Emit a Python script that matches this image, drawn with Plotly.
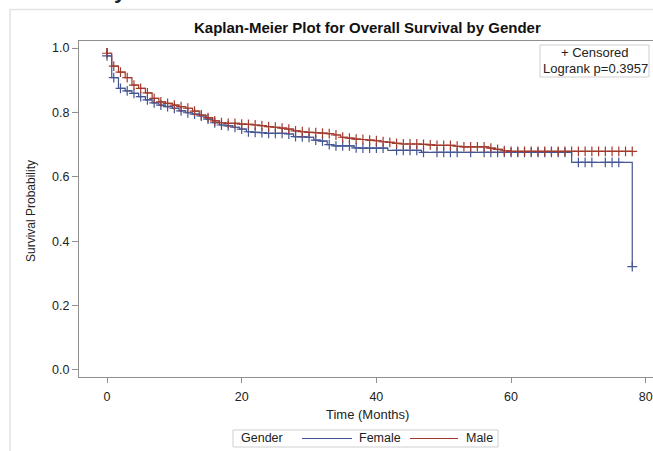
import plotly.graph_objects as go

# ---------------- data ----------------
months = list(range(0, 79))

male_surv = [0.984, 0.944, 0.925, 0.908, 0.885, 0.875, 0.861, 0.844, 0.833, 0.828,
             0.823, 0.818, 0.813, 0.804, 0.792, 0.784, 0.774, 0.768, 0.766, 0.766,
             0.764, 0.763, 0.761, 0.759, 0.756, 0.754, 0.751, 0.748, 0.743, 0.740,
             0.738, 0.737, 0.736, 0.734, 0.730, 0.723, 0.720, 0.717, 0.716, 0.714,
             0.712, 0.709, 0.707, 0.704, 0.702, 0.702, 0.702, 0.701, 0.699, 0.698,
             0.698, 0.698, 0.695, 0.693, 0.693, 0.693, 0.693, 0.689, 0.685, 0.681,
             0.679, 0.679, 0.679, 0.679, 0.679, 0.679, 0.679, 0.679, 0.679, 0.679,
             0.679, 0.679, 0.679, 0.679, 0.679, 0.679, 0.679, 0.679, 0.679]

female_surv = [0.976, 0.908, 0.875, 0.867, 0.859, 0.849, 0.839, 0.830, 0.823, 0.818,
               0.813, 0.805, 0.799, 0.795, 0.789, 0.779, 0.768, 0.761, 0.758, 0.754,
               0.748, 0.740, 0.738, 0.737, 0.735, 0.735, 0.735, 0.733, 0.725, 0.724,
               0.723, 0.714, 0.711, 0.700, 0.696, 0.696, 0.696, 0.690, 0.689, 0.689,
               0.689, 0.689, 0.682, 0.682, 0.682, 0.682, 0.682, 0.676, 0.676, 0.676,
               0.676, 0.676, 0.676, 0.676, 0.676, 0.676, 0.676, 0.676, 0.676, 0.676,
               0.676, 0.676, 0.676, 0.676, 0.676, 0.676, 0.676, 0.676, 0.676, 0.645,
               0.645, 0.645, 0.645, 0.645, 0.645, 0.645, 0.645, 0.645, 0.321]

male_censored = list(range(0, 79))
female_censored = [m for m in range(0, 69) if m not in (42, 48, 53, 55)] + [70, 71, 72, 74, 75, 76, 78]

x_ticks = [0, 20, 40, 60, 80]
y_ticks = [0.0, 0.2, 0.4, 0.6, 0.8, 1.0]
y_tick_labels = ["0.0", "0.2", "0.4", "0.6", "0.8", "1.0"]
logrank_text = "Logrank p=0.3957"

BLUE = "#445694"
RED = "#A23A2E"
FONT = "Liberation Sans, Arial, sans-serif"
AXIS = "#8f8f8f"


def step_xy(surv):
    # event drops happen just before each month mark in the early part
    t = [0.0, 0.0] + [m - 0.3 if m < 60 else float(m) for m in months[1:]] + [float(months[-1])]
    s = [1.0] + list(surv) + [surv[-1]]
    return t, s


fig = go.Figure()
for name, surv, cens, col in [("Female", female_surv, female_censored, BLUE),
                              ("Male", male_surv, male_censored, RED)]:
    t, s = step_xy(surv)
    fig.add_trace(go.Scatter(x=t, y=s, mode="lines", line=dict(color=col, width=1.2, shape="hv"),
                             name=name, showlegend=False, hoverinfo="skip"))
    fig.add_trace(go.Scatter(x=cens, y=[surv[c] for c in cens], mode="markers",
                             marker=dict(symbol="cross-thin", size=7, line=dict(color=col, width=1.2)),
                             name=name + " censored", showlegend=False, hoverinfo="skip"))

# plot area: x 79..653, y 41..377
L, R, T, B = 79, 653, 41, 377
W, H = R - L, B - T


def px(x):
    return (x - L) / W


def py(y):
    return (B - y) / H


annotations = [
    dict(text="<b>Kaplan-Meier Plot for Overall Survival by Gender</b>", x=px(367), y=py(28),
         xanchor="center", yanchor="middle", font=dict(size=15, color="#111")),
    dict(text="<b>y</b>", x=px(112), y=py(4.5), xanchor="left", yanchor="bottom",
         font=dict(size=22, color="#222")),
    dict(text="Survival Probability", x=px(31), y=py(211), textangle=-90,
         xanchor="center", yanchor="middle", font=dict(size=12, color="#222")),
    dict(text="Time (Months)", x=px(367), y=py(414), xanchor="center", yanchor="middle",
         font=dict(size=13, color="#222")),
    dict(text="+ Censored", x=px(595), y=py(53), xanchor="center", yanchor="middle",
         font=dict(size=13, color="#222")),
    dict(text=logrank_text, x=px(595), y=py(68.5), xanchor="center", yanchor="middle",
         font=dict(size=13, color="#222")),
    dict(text="Gender", x=px(239), y=py(438.5), xanchor="left", yanchor="middle",
         font=dict(size=12.5, color="#222")),
    dict(text="Female", x=px(357), y=py(438.5), xanchor="left", yanchor="middle",
         font=dict(size=12.5, color="#222")),
    dict(text="Male", x=px(464), y=py(438.5), xanchor="left", yanchor="middle",
         font=dict(size=12.5, color="#222")),
]
for a in annotations:
    a.update(xref="paper", yref="paper", showarrow=False)
    a["font"]["family"] = FONT

shapes = [
    # outer light frame
    dict(type="rect", x0=px(10), x1=px(700), y0=py(500), y1=py(9.5),
         line=dict(color="#e2e2e2", width=1.5)),
    # inset box
    dict(type="rect", x0=px(540), x1=px(649), y0=py(77), y1=py(45),
         line=dict(color="#cfcfcf", width=1)),
    # legend box
    dict(type="rect", x0=px(233), x1=px(498), y0=py(447), y1=py(430),
         line=dict(color="#cfcfcf", width=1)),
    dict(type="line", x0=px(302), x1=px(352), y0=py(438.5), y1=py(438.5),
         line=dict(color=BLUE, width=1.2)),
    dict(type="line", x0=px(410), x1=px(458), y0=py(438.5), y1=py(438.5),
         line=dict(color=RED, width=1.2)),
]
for s in shapes:
    s.update(xref="paper", yref="paper", layer="above")

fig.update_layout(
    width=653, height=451,
    margin=dict(l=L, r=653 - R, t=T, b=451 - B, pad=0),
    paper_bgcolor="white", plot_bgcolor="white",
    font=dict(family=FONT, size=12, color="#222"),
    showlegend=False,
    annotations=annotations,
    shapes=shapes,
    xaxis=dict(range=[-4.16, 81.08], tickvals=x_ticks, ticks="outside", ticklen=5,
               tickcolor=AXIS, showline=True, linecolor=AXIS, linewidth=1, mirror=True,
               showgrid=False, zeroline=False, ticklabelstandoff=3,
               tickfont=dict(size=12.5, color="#222")),
    yaxis=dict(range=[-0.022, 1.022], tickvals=y_ticks, ticktext=y_tick_labels,
               ticks="outside", ticklen=6, tickcolor=AXIS, showline=True, linecolor=AXIS,
               linewidth=1, showgrid=False, zeroline=False, tickfont=dict(size=12.5, color="#222")),
)

fig.write_html("out.html")
